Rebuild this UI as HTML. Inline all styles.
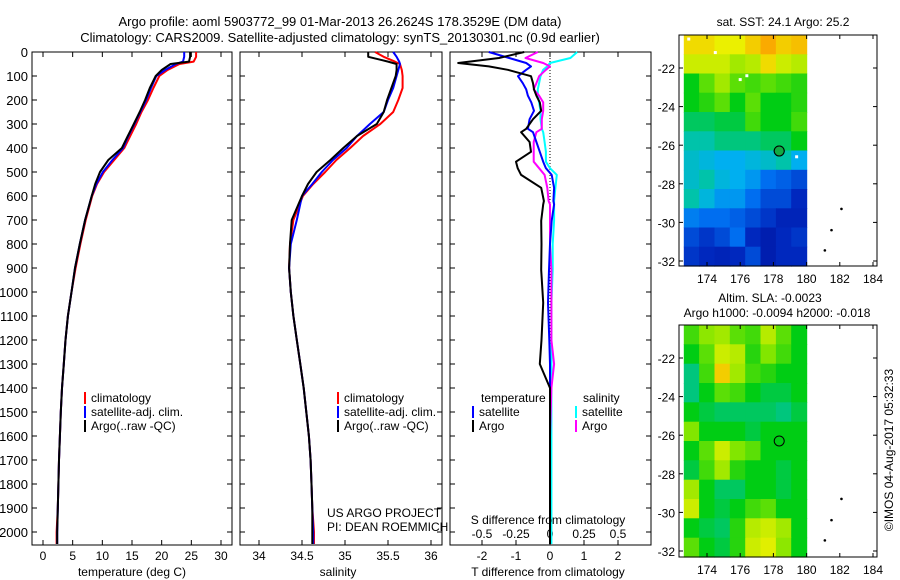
<!DOCTYPE html>
<html><head><meta charset="utf-8"><style>
html,body{margin:0;padding:0;background:#fff;}
svg{display:block;font-family:"Liberation Sans",sans-serif;}
text{font-size:13px;fill:#000;}
</style></head><body>
<svg id="c" width="900" height="580" xmlns="http://www.w3.org/2000/svg"></svg>
<script>
// ---- data ----
const depths=[0,20,40,50,75,100,150,200,250,300,350,400,450,500,550,600,700,800,900,1000,1100,1200,1300,1400,1500,1600,1700,1800,1900,2000,2050];
const tempArgo=[24.8,24.8,24.6,21.5,20.0,19.0,18.0,17.2,16.3,15.3,14.3,13.3,11.0,9.6,8.8,8.2,7.1,6.2,5.4,4.8,4.2,3.8,3.5,3.2,3.0,2.85,2.7,2.6,2.5,2.4,2.4];
const tempClim=[25.8,25.8,25.4,23.0,21.0,19.6,18.6,17.7,16.6,15.7,14.7,13.7,12.0,10.3,9.1,8.3,7.2,6.3,5.5,4.8,4.2,3.8,3.5,3.2,3.0,2.85,2.7,2.6,2.5,2.3,2.3];
const tempSat=[23.8,23.8,23.6,22.4,20.6,19.1,18.2,17.4,16.4,15.4,14.4,13.5,11.7,10.1,9.0,8.2,7.1,6.2,5.4,4.8,4.2,3.8,3.5,3.2,3.0,2.85,2.7,2.6,2.5,2.4,2.4];
const salArgo=[35.27,35.27,35.5,35.6,35.6,35.59,35.54,35.49,35.45,35.37,35.14,34.98,34.83,34.67,34.57,34.5,34.38,34.36,34.35,34.37,34.4,34.44,34.48,34.52,34.55,34.58,34.6,34.61,34.62,34.62,34.62];
const salClim=[35.35,35.45,35.58,35.64,35.66,35.67,35.67,35.62,35.56,35.41,35.21,35.06,34.9,34.77,34.63,34.51,34.4,34.36,34.35,34.37,34.4,34.44,34.48,34.52,34.55,34.58,34.6,34.61,34.62,34.64,34.64];
const salSat=[35.56,35.6,35.63,35.64,35.62,35.6,35.56,35.5,35.45,35.29,35.14,35.02,34.86,34.73,34.62,34.5,34.44,34.37,34.35,34.37,34.4,34.44,34.48,34.52,34.55,34.58,34.6,34.61,34.62,34.63,34.63];
const dDepths=[0,25,46,60,74,101,130,156,182,210,245,280,320,334,375,416,457,484,512,566,621,635,703,800,908,1045,1200,1300,1400,1600,2050];
const dTArgo=[-0.76,-1.5,-2.7,-1.8,-1.24,-0.56,-0.5,-0.47,-0.4,-0.3,-0.26,-0.5,-0.7,-0.85,-0.6,-0.56,-1.0,-0.95,-0.85,-0.26,-0.18,-0.2,-0.26,-0.25,-0.26,-0.2,-0.25,-0.3,0,0,0];
const dTSat=[-1.8,-1.2,-0.7,-0.56,-0.7,-0.94,-0.8,-0.7,-0.65,-0.55,-0.47,-0.6,-0.65,-0.5,-0.4,-0.3,-0.2,-0.12,0.05,0.12,0.1,0.12,0.05,0.0,-0.03,-0.06,-0.02,0,0,0,0];
const dSArgo=[-0.09,-0.18,-0.05,0,-0.03,-0.08,-0.1,-0.12,-0.08,-0.05,-0.05,-0.06,-0.06,-0.1,-0.12,-0.12,-0.12,-0.08,-0.04,-0.02,-0.01,0,0,0,0.01,0.01,0.01,0.03,0.01,0,0];
const dSSat=[0.2,0.15,0,-0.02,-0.05,-0.07,-0.08,-0.09,-0.09,-0.08,-0.07,-0.07,-0.06,-0.05,-0.04,-0.03,-0.03,0.0,0.05,0.04,0.03,0.03,0.03,0.02,0.02,0.01,0.01,0.01,0.01,0.01,0.01];
const depthTicks=[0,100,200,300,400,500,600,700,800,900,1000,1100,1200,1300,1400,1500,1600,1700,1800,1900,2000];
const tempTicks=[0,5,10,15,20,25,30];
const salTicks=[34,34.5,35,35.5,36];
const tdTicks=[-2,-1,0,1,2];
const sdTicks=[-0.5,-0.25,0,0.25,0.5];
const sstGrid=[
[0.78,0.78,0.75,0.75,0.8,0.85,0.8,0.82],
[0.72,0.72,0.72,0.68,0.7,0.78,0.72,0.7],
[0.55,0.62,0.68,0.62,0.6,0.62,0.6,0.58],
[0.55,0.58,0.62,0.55,0.62,0.55,0.55,0.58],
[0.5,0.5,0.52,0.52,0.6,0.55,0.55,0.6],
[0.45,0.45,0.48,0.48,0.48,0.5,0.5,0.55],
[0.42,0.4,0.38,0.38,0.4,0.42,0.45,0.38],
[0.42,0.45,0.4,0.38,0.35,0.3,0.28,0.25],
[0.45,0.4,0.35,0.35,0.3,0.25,0.25,0.2],
[0.32,0.3,0.3,0.28,0.25,0.22,0.18,0.18],
[0.25,0.22,0.25,0.3,0.2,0.15,0.2,0.22],
[0.22,0.2,0.18,0.2,0.25,0.15,0.2,0.2]];
const slaGrid=[
[0.6,0.66,0.68,0.62,0.6,0.7,0.62,0.55],
[0.55,0.62,0.72,0.7,0.58,0.65,0.6,0.55],
[0.48,0.6,0.8,0.68,0.6,0.58,0.55,0.55],
[0.48,0.55,0.62,0.6,0.55,0.52,0.52,0.55],
[0.55,0.52,0.5,0.5,0.5,0.5,0.48,0.52],
[0.65,0.55,0.55,0.55,0.52,0.55,0.55,0.55],
[0.55,0.62,0.72,0.65,0.62,0.55,0.55,0.55],
[0.52,0.6,0.68,0.58,0.55,0.55,0.52,0.55],
[0.68,0.55,0.5,0.5,0.55,0.55,0.52,0.55],
[0.72,0.55,0.52,0.55,0.6,0.62,0.55,0.55],
[0.55,0.52,0.5,0.58,0.7,0.72,0.68,0.55],
[0.62,0.55,0.52,0.58,0.72,0.74,0.66,0.55]];
const islands=[[182.1,29.3],[181.5,30.4],[181.1,31.45]];
const argoPos=[178.35,26.3];

// ---- helpers ----
const S=document.getElementById('c');
const NS='http://www.w3.org/2000/svg';
function mk(tag,at,parent){const e=document.createElementNS(NS,tag);for(const k in at)e.setAttribute(k,at[k]);(parent||S).appendChild(e);return e;}
function txt(x,y,s,anchor,size,parent){const t=mk('text',{x:x,y:y,'text-anchor':anchor||'middle'},parent);if(size)t.style.fontSize=size+'px';t.textContent=s;return t;}
const Y0=52,PXD=0.24,YB=545;
const yD=d=>Y0+d*PXD;
function lin(d0,d1,p0,p1){return v=>p0+(v-d0)*(p1-p0)/(d1-d0);}
const xT=lin(0,30,43,221), xS=lin(34,36,259,431), xTD=lin(0,1,550,584), xSD=lin(0,1,550,686);

function panel(x0,x1,name,ticks,xf,fmt,showDepth){
  const g=mk('g',{});
  
  
  const r=mk('rect',{x:x0,y:Y0,width:x1-x0,height:YB-Y0,fill:'none',stroke:'#000','stroke-width':1},g);
  
  
  depthTicks.forEach(d=>{
    const y=yD(d);
    mk('line',{x1:x0,x2:x0+5,y1:y,y2:y,stroke:'#000'},g);
    mk('line',{x1:x1-5,x2:x1,y1:y,y2:y,stroke:'#000'},g);
    if(showDepth){const t=txt(x0-4,y+5,String(d),'end',13,g);
      
      }
  });
  ticks.forEach(v=>{const x=xf(v);
    mk('line',{x1:x,x2:x,y1:Y0,y2:Y0+5,stroke:'#000'},g);
    mk('line',{x1:x,x2:x,y1:YB-5,y2:YB,stroke:'#000'},g);
    if(fmt){const t=txt(x,YB+15,fmt(v),'middle',12,g);
      
      }
  });
  return g;
}
function line(xs,ds,xf,color,w,name){
  const p=xs.map((v,i)=>xf(v).toFixed(1)+','+yD(ds[i]).toFixed(1)).join(' ');
  const e=mk('polyline',{points:p,fill:'none',stroke:color,'stroke-width':w,'stroke-linejoin':'round'});
  
  
}
function legend(x,y,items){
  items.forEach((it,i)=>{
    const yy=y+i*14;
    mk('line',{x1:x,x2:x,y1:yy-10,y2:yy+2,stroke:it[1],'stroke-width':2});
    const t=txt(x+6,yy,it[0],'start',12);
    
    
  });
}

// titles
let t=txt(340,26,'Argo profile: aoml 5903772_99 01-Mar-2013 26.2624S 178.3529E (DM data)','middle',13);


t=txt(340,42,'Climatology: CARS2009. Satellite-adjusted climatology: synTS_20130301.nc (0.9d earlier)','middle',13);



// panel 1
panel(32,232,'temperature-panel',tempTicks,xT,v=>String(v),true);
line(tempClim,depths,xT,'#f00',2,'temperature-climatology-line');
line(tempSat,depths,xT,'#00f',2,'temperature-satellite-line');
line(tempArgo,depths,xT,'#000',2,'temperature-argo-line');
legend(85,402,[['climatology','#f00'],['satellite-adj. clim.','#00f'],['Argo(..raw -QC)','#000']]);
t=txt(132,576,'temperature (deg C)','middle',12);



// panel 2
panel(240,442,'salinity-panel',salTicks,xS,v=>String(v),false);
line(salClim,depths,xS,'#f00',2,'salinity-climatology-line');
line(salSat,depths,xS,'#00f',2,'salinity-satellite-line');
line(salArgo,depths,xS,'#000',2,'salinity-argo-line');
legend(338,402,[['climatology','#f00'],['satellite-adj. clim.','#00f'],['Argo(..raw -QC)','#000']]);
t=txt(338,576,'salinity','middle',12);


t=txt(327,517,'US ARGO PROJECT','start',12);


t=txt(327,531,'PI: DEAN ROEMMICH','start',12);



// panel 3
panel(450,651,'difference-panel',tdTicks,xTD,v=>String(v),false);
sdTicks.forEach(v=>{const tt=txt(xSD(v),538,String(v),'middle',12);
  
  });
mk('line',{x1:xTD(0),x2:xTD(0),y1:Y0,y2:YB,stroke:'#000','stroke-dasharray':'1,2'});
line(dSSat,dDepths,xSD,'#0ff',2,'salinity-satellite-diff-line');
line(dSArgo,dDepths,xSD,'#f0f',2,'salinity-argo-diff-line');
line(dTSat,dDepths,xTD,'#00f',2,'temperature-satellite-diff-line');
line(dTArgo,dDepths,xTD,'#000',2,'temperature-argo-diff-line');
t=txt(481,402,'temperature','start',12);


t=txt(583,402,'salinity','start',12);


legend(473,416,[['satellite','#00f'],['Argo','#000']]);
legend(576,416,[['satellite','#0ff'],['Argo','#f0f']]);
t=txt(548,524,'S difference from climatology','middle',12);


t=txt(548,576,'T difference from climatology','middle',12);



// maps
const stops=[[0,[0,0,130]],[0.2,[0,40,190]],[0.3,[0,110,240]],[0.38,[0,175,240]],[0.45,[0,195,170]],[0.55,[0,205,20]],[0.65,[130,230,0]],[0.75,[235,240,0]],[0.85,[250,170,0]],[1,[240,60,0]]];
function cmap(v){for(let i=1;i<stops.length;i++){if(v<=stops[i][0]){const a=stops[i-1],b=stops[i],f=(v-a[0])/(b[0]-a[0]);return 'rgb('+a[1].map((c,k)=>Math.round(c+(b[1][k]-c)*f)).join(',')+')';}}return 'rgb(240,60,0)';}
function map(top,bot,lat22,lat32,grid,name){
  const g=mk('g',{});
  
  
  const L=679,R=877;
  const xL=lin(174,184,707,873), yL=lin(22,32,lat22,lat32);
  const lonMin=172.6, latMin=(top-lat22)/((lat32-lat22)/10)+22;
  const latMax=(bot-lat22)/((lat32-lat22)/10)+22;
  const rows=grid.length, cols=grid[0].length;
  const dLat=(latMax-latMin)/rows, dLon=(180-lonMin)/cols;
  grid.forEach((row,i)=>row.forEach((v,j)=>{
    const x=xL(lonMin+j*dLon), y=yL(latMin+i*dLat);
    const c=mk('rect',{x:x.toFixed(1),y:y.toFixed(1),width:(xL(lonMin+(j+1)*dLon)-x+0.6).toFixed(1),height:(yL(latMin+(i+1)*dLat)-y+0.6).toFixed(1),fill:cmap(v)},g);
    
    
  }));
  mk('rect',{x:L,y:top,width:R-L,height:bot-top,fill:'none',stroke:'#000'},g);
  [22,24,26,28,30,32].forEach(la=>{const y=yL(la);
    mk('line',{x1:L,x2:L+4,y1:y,y2:y,stroke:'#000'},g);mk('line',{x1:R-4,x2:R,y1:y,y2:y,stroke:'#000'},g);
    const tt=txt(675,y+5,'-'+la,'end',12,g);
    
    });
  [174,176,178,180,182,184].forEach(lo=>{const x=xL(lo);
    mk('line',{x1:x,x2:x,y1:top,y2:top+4,stroke:'#000'},g);mk('line',{x1:x,x2:x,y1:bot-4,y2:bot,stroke:'#000'},g);
    const tt=txt(x,bot+17,String(lo),'middle',12,g);
    
    });
  islands.forEach(p=>{mk('circle',{cx:xL(p[0]),cy:yL(p[1]),r:1.3,fill:'#000'},g);});
  const m=mk('circle',{cx:xL(argoPos[0]),cy:yL(argoPos[1]),r:5,fill:'none',stroke:'#000'},g);
  
  
  return [xL,yL];
}
const [xL1,yL1]=map(35,266,68,261,sstGrid,'sst-map');
mk('circle',{cx:xL1(argoPos[0]),cy:yL1(argoPos[1]),r:5,fill:'#1a4',stroke:'#000'});
[[174.5,21.2],[176,22.6],[176.4,22.4],[179.4,26.6],[172.9,20.5]].forEach(p=>mk('rect',{x:xL1(p[0])-1.5,y:yL1(p[1])-1.5,width:3,height:3,fill:'#fff'}));
map(325,557,358,551,slaGrid,'sla-map');
t=txt(783,26,'sat. SST: 24.1 Argo: 25.2','middle',12);


t=txt(770,302,'Altim. SLA: -0.0023','middle',12);


t=txt(777,317,'Argo h1000: -0.0094 h2000: -0.018','middle',12);


t=txt(0,0,'©IMOS 04-Aug-2017 05:32:33','middle',12);
t.setAttribute('transform','translate(893,450) rotate(-90)');


</script>
</body></html>
